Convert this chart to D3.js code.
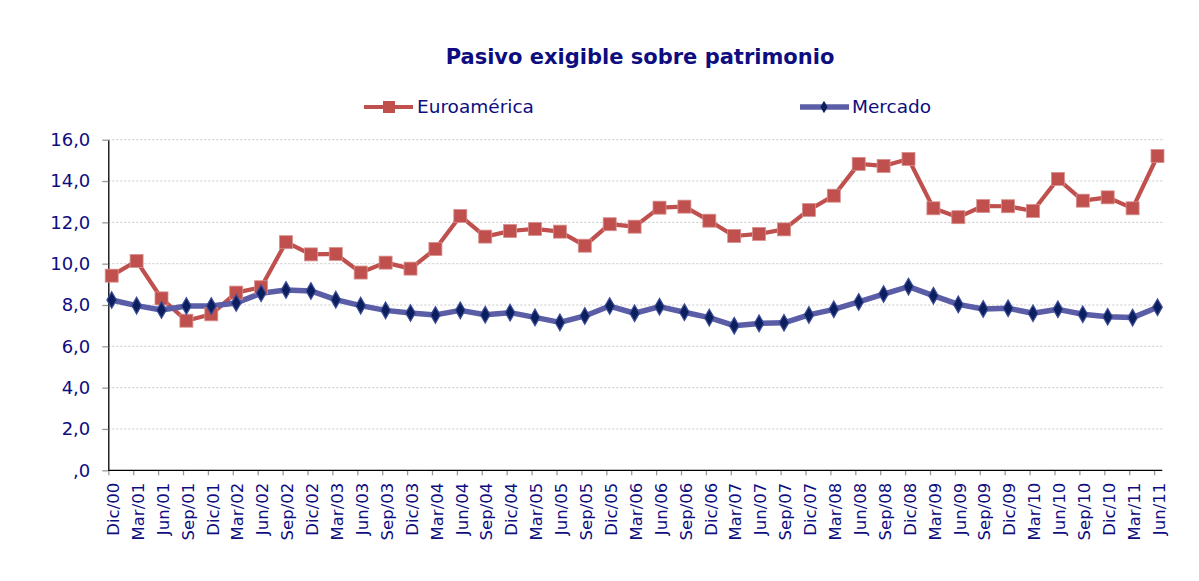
<!DOCTYPE html>
<html><head><meta charset="utf-8">
<script src="https://cdn.jsdelivr.net/npm/d3@7"></script>
<style>
html,body{margin:0;padding:0;background:#fff;}
svg text{font-family:"DejaVu Sans",Verdana,sans-serif;fill:#0d0d80;}
</style></head>
<body><svg id="c" width="1199" height="581"></svg>
<script>
const categories = ["Dic/00","Mar/01","Jun/01","Sep/01","Dic/01","Mar/02","Jun/02","Sep/02","Dic/02","Mar/03","Jun/03","Sep/03","Dic/03","Mar/04","Jun/04","Sep/04","Dic/04","Mar/05","Jun/05","Sep/05","Dic/05","Mar/06","Jun/06","Sep/06","Dic/06","Mar/07","Jun/07","Sep/07","Dic/07","Mar/08","Jun/08","Sep/08","Dic/08","Mar/09","Jun/09","Sep/09","Dic/09","Mar/10","Jun/10","Sep/10","Dic/10","Mar/11","Jun/11"];
const euroamerica = [9.42,10.13,8.32,7.24,7.55,8.60,8.86,11.04,10.45,10.47,9.57,10.05,9.76,10.71,12.31,11.31,11.58,11.68,11.55,10.87,11.91,11.79,12.71,12.76,12.08,11.34,11.44,11.66,12.60,13.29,14.83,14.73,15.07,12.68,12.25,12.79,12.78,12.55,14.10,13.05,13.21,12.68,15.21];
const mercado = [8.24,7.97,7.76,7.95,7.95,8.10,8.57,8.73,8.68,8.26,7.97,7.74,7.61,7.52,7.74,7.53,7.63,7.40,7.16,7.47,7.95,7.60,7.92,7.65,7.39,7.00,7.11,7.14,7.52,7.79,8.15,8.53,8.89,8.45,8.03,7.81,7.84,7.60,7.79,7.55,7.43,7.39,7.89];
const yTicks = [0,2,4,6,8,10,12,14,16];
const yTickLabels = [",0","2,0","4,0","6,0","8,0","10,0","12,0","14,0","16,0"];
const title = "Pasivo exigible sobre patrimonio";
const seriesNames = ["Euroamérica","Mercado"];

const RED = "#c0504d", BLUE_LINE = "#5b5ea6", BLUE_MARK = "#0b1f5e";
const svg = d3.select("#c");
const pLeft = 108.3, pRight = 1162.3, pTop = 139.7, pBottom = 470.3;

const x = d3.scalePoint().domain(categories).range([111.7, 1157.5]);
const y = d3.scaleLinear().domain([0,16]).range([pBottom, pTop]);

// gridlines
svg.append("g").selectAll("line").data(yTicks.slice(1)).join("line")
  .attr("x1", pLeft).attr("x2", pRight).attr("y1", d=>y(d)).attr("y2", d=>y(d))
  .attr("stroke", "#c8c8c8").attr("stroke-width", 1).attr("stroke-dasharray", "2,2");

// y axis
const yAxis = d3.axisLeft(y).tickValues(yTicks).tickFormat((d,i)=>yTickLabels[i]).tickSize(6).tickSizeOuter(0).tickPadding(12);
const gy = svg.append("g").attr("transform", `translate(${pLeft},0)`).call(yAxis);
gy.select(".domain").attr("stroke", "#000").attr("stroke-width", 1.3);
gy.selectAll(".tick line").attr("stroke", "#999").attr("stroke-width", 1.3);
gy.selectAll(".tick text").attr("font-size", 18).style("fill", "#0d0d80");

// x axis
const xAxis = d3.axisBottom(x).tickSize(5).tickSizeOuter(0).tickPadding(8);
const gx = svg.append("g").attr("transform", `translate(0,${pBottom})`).call(xAxis);
gx.select(".domain").remove();
gx.append("line").attr("x1", pLeft).attr("x2", pRight).attr("y1", 0).attr("y2", 0).attr("stroke", "#000").attr("stroke-width", 1.3);
gx.selectAll(".tick line").attr("x1", -3.4).attr("x2", -3.4).attr("stroke", "#999").attr("stroke-width", 1.3);
gx.selectAll(".tick text").attr("font-size", 16.5).style("fill", "#0d0d80")
  .attr("transform", "rotate(-90)").attr("text-anchor", "end")
  .attr("x", -12.5).attr("y", 1).attr("dy", "0.35em");

// lines
const line = d3.line().x((d,i)=>x(categories[i])).y(d=>y(d));
svg.append("path").datum(euroamerica).attr("d", line).attr("fill","none").attr("stroke", RED).attr("stroke-width", 4.2).attr("stroke-linejoin","round");
svg.append("path").datum(mercado).attr("d", line).attr("fill","none").attr("stroke", BLUE_LINE).attr("stroke-width", 5.5).attr("stroke-linejoin","round");

// markers
const sq = 13;
svg.append("g").selectAll("rect").data(euroamerica).join("rect")
  .attr("x", (d,i)=>x(categories[i])-sq/2).attr("y", d=>y(d)-sq/2)
  .attr("width", sq).attr("height", sq).attr("fill", RED).attr("stroke", "#d8908e").attr("stroke-width", 0.8);
const dm = d3.symbol().type(d3.symbolDiamond).size(80);
svg.append("g").selectAll("path").data(mercado).join("path")
  .attr("transform", (d,i)=>`translate(${x(categories[i])},${y(d)})`)
  .attr("d", dm).attr("fill", BLUE_MARK).attr("stroke", "#3c4c98").attr("stroke-width", 1.2);

// title
svg.append("text").attr("x", 640).attr("y", 57).attr("text-anchor","middle").attr("dy","0.35em")
  .attr("font-size", 21).attr("font-weight","bold").style("fill","#0d0d80").text(title);

// legend
const lg = svg.append("g");
lg.append("line").attr("x1",364).attr("x2",413).attr("y1",107).attr("y2",107).attr("stroke",RED).attr("stroke-width",4.2);
lg.append("rect").attr("x",389-6).attr("y",107-6).attr("width",12).attr("height",12).attr("fill",RED);
lg.append("text").attr("x",417).attr("y",107).attr("dy","0.35em").attr("font-size",18.5).text(seriesNames[0]);
lg.append("line").attr("x1",800).attr("x2",849).attr("y1",107).attr("y2",107).attr("stroke",BLUE_LINE).attr("stroke-width",5.5);
lg.append("path").attr("transform","translate(824,107)").attr("d", d3.symbol().type(d3.symbolDiamond).size(45)).attr("fill",BLUE_MARK);
lg.append("text").attr("x",852).attr("y",107).attr("dy","0.35em").attr("font-size",18.5).text(seriesNames[1]);
</script></body></html>
